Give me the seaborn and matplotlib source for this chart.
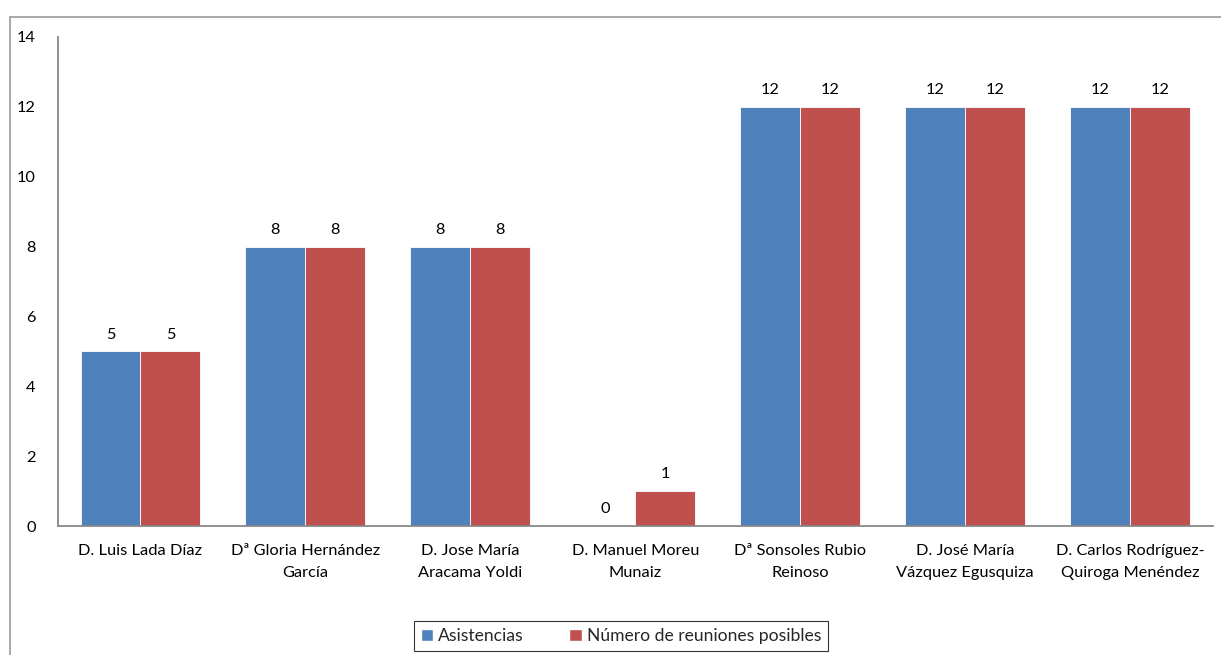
import seaborn as sns
import matplotlib.pyplot as plt
import matplotlib.patches as mpatches
import pandas as pd

sns.set_theme(style="white")
plt.rcParams['font.family'] = ['Lato', 'DejaVu Sans']

# data
consejeros = [
    "D. Luis Lada Díaz",
    "Dª Gloria Hernández\nGarcía",
    "D. Jose María\nAracama Yoldi",
    "D. Manuel Moreu\nMunaiz",
    "Dª Sonsoles Rubio\nReinoso",
    "D. José María\nVázquez Egusquiza",
    "D. Carlos Rodríguez-\nQuiroga Menéndez",
]
asistencias = [5, 8, 8, 0, 12, 12, 12]
reuniones_posibles = [5, 8, 8, 1, 12, 12, 12]
series = ["Asistencias", "Número de reuniones posibles"]
colores = ["#4F81BD", "#C0504D"]

df = pd.DataFrame({
    "consejero": consejeros * 2,
    "valor": asistencias + reuniones_posibles,
    "serie": [series[0]] * len(consejeros) + [series[1]] * len(consejeros),
})

fs = 11.8

fig = plt.figure(figsize=(12.21, 6.55), dpi=100)
ax = fig.add_axes([58 / 1221, 1 - 526 / 655, (1212.5 - 58) / 1221, (526 - 37) / 655])

sns.barplot(data=df, x="consejero", y="valor", hue="serie", palette=colores,
            width=0.727, ax=ax, legend=False, saturation=1, linewidth=0.6,
            edgecolor="white")

for cont in ax.containers:
    ax.bar_label(cont, padding=7, fontsize=fs, color="black")

ax.set_ylim(0, 14)
ax.set_yticks(range(0, 15, 2))
ax.set_xlabel("")
ax.set_ylabel("")
ax.tick_params(axis="both", length=0, labelsize=fs, colors="black")
ax.tick_params(axis="y", pad=16)
ax.tick_params(axis="x", pad=13)
for lbl in ax.get_xticklabels():
    lbl.set_linespacing(1.75)
for side in ["top", "right"]:
    ax.spines[side].set_visible(False)
for side in ["left", "bottom"]:
    ax.spines[side].set_color("#888888")
    ax.spines[side].set_linewidth(1.3)

# outer chart frame (cut by the image edges)
frame = mpatches.Rectangle((10 / 1221, -0.2), 2, (655 - 17) / 655 + 0.2,
                           transform=fig.transFigure, fill=False,
                           edgecolor="#999999", linewidth=1.2)
fig.patches.append(frame)

handles = [mpatches.Patch(facecolor=c, label=s) for c, s in zip(colores, series)]
leg = fig.legend(handles=handles, loc="center", bbox_to_anchor=(621 / 1221, 1 - 636 / 655),
                 ncol=2, frameon=True, fontsize=12.6, handlelength=0.7, handleheight=0.7,
                 handletextpad=0.3, columnspacing=2.6, fancybox=False,
                 borderpad=0.4, borderaxespad=0)
leg.get_frame().set_edgecolor("black")
leg.get_frame().set_linewidth(0.8)

fig.savefig("out.png", dpi=100)
